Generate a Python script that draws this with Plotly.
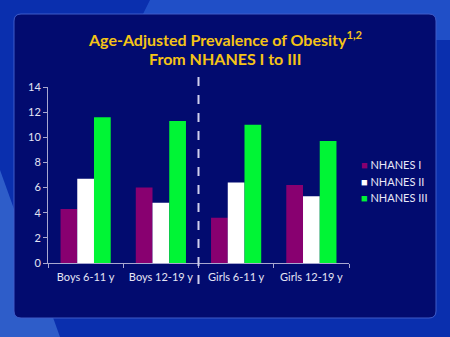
import plotly.graph_objects as go

categories = ["Boys 6-11 y", "Boys 12-19 y", "Girls 6-11 y", "Girls 12-19 y"]
nhanes1 = [4.3, 6.0, 3.6, 6.2]
nhanes2 = [6.7, 4.8, 6.4, 5.3]
nhanes3 = [11.6, 11.3, 11.0, 9.7]
series_names = ["NHANES I", "NHANES II", "NHANES III"]
series_colors = ["#880070", "#FFFFFF", "#00F535"]
y_ticks = [0, 2, 4, 6, 8, 10, 12, 14]

W, H = 450, 337
L, R, T, B = 48, 101, 87, 74
pw = W - L - R
ph = H - T - B

def px_x(px):
    return (px - L) / pw

def px_y(py):
    return (H - B - py) / ph

fig = go.Figure()
for name, vals, col in zip(series_names, [nhanes1, nhanes2, nhanes3], series_colors):
    fig.add_trace(go.Bar(x=categories, y=vals, name=name, marker_color=col,
                         marker_line_width=0, showlegend=False))

# background decorations
x0, x1, y0, y1 = px_x(14), px_x(436), px_y(318), px_y(14)
rx, ry = 7 / pw, 7 / ph
panel = (f"M {x0+rx},{y1} L {x1-rx},{y1} Q {x1},{y1} {x1},{y1-ry} "
         f"L {x1},{y0+ry} Q {x1},{y0} {x1-rx},{y0} L {x0+rx},{y0} "
         f"Q {x0},{y0} {x0},{y0+ry} L {x0},{y1-ry} Q {x0},{y1} {x0+rx},{y1} Z")
shapes = [
    dict(type="path", xref="paper", yref="paper", layer="below",
         path=f"M {px_x(0)},{px_y(337)} L {px_x(0)},{px_y(170)} L {px_x(60)},{px_y(337)} Z",
         fillcolor="rgba(90,150,235,0.45)", line_width=0),
    dict(type="path", xref="paper", yref="paper", layer="below",
         path=f"M {px_x(150)},{px_y(0)} L {px_x(450)},{px_y(0)} L {px_x(450)},{px_y(40)} L {px_x(130)},{px_y(40)} Z",
         fillcolor="rgba(60,120,230,0.45)", line_width=0),
    dict(type="path", xref="paper", yref="paper", layer="below", path=panel,
         fillcolor="#020B6F", line=dict(color="#3F5CC8", width=1)),
    dict(type="line", xref="x", yref="paper", x0=1.5, x1=1.5,
         y0=px_y(284), y1=px_y(77),
         line=dict(color="#D0D0EE", width=2, dash="dash")),
]

annotations = [
    dict(xref="paper", yref="paper", x=px_x(225), y=px_y(38),
         text="<b>Age-Adjusted Prevalence of Obesity<sup>1,2</sup></b>",
         showarrow=False, font=dict(size=16, color="#F5C416"), xanchor="center", yanchor="middle"),
    dict(xref="paper", yref="paper", x=px_x(225), y=px_y(59),
         text="<b>From NHANES I to III</b>",
         showarrow=False, font=dict(size=16, color="#F5C416"), xanchor="center", yanchor="middle"),
]
legend_y = [164.5, 181, 197.5]
for name, col, ly in zip(series_names, series_colors, legend_y):
    annotations.append(dict(
        xref="paper", yref="paper", x=px_x(359), y=px_y(ly),
        text=f'<span style="color:{col}">■</span> {name}',
        showarrow=False, xanchor="left", yanchor="middle",
        font=dict(size=11, color="#E8E8F8")))

fig.update_layout(
    width=W, height=H,
    margin=dict(l=L, r=R, t=T, b=B),
    paper_bgcolor="#0A2FAE",
    plot_bgcolor="rgba(0,0,0,0)",
    barmode="group", bargap=0.333, bargroupgap=0,
    font=dict(family="Lato, Open Sans, sans-serif", color="#E4E4F4", size=11),
    showlegend=False,
    xaxis=dict(showline=True, linecolor="#A8A8D0", linewidth=1, ticks="outside",
               tickson="boundaries", ticklen=4, tickcolor="#A8A8D0",
               ticklabelstandoff=4,
               tickfont=dict(size=11), showgrid=False, fixedrange=True),
    yaxis=dict(range=[0, 14], tickvals=y_ticks, showline=True, linecolor="#A8A8D0",
               linewidth=1, ticks="outside", ticklen=4, tickcolor="#A8A8D0",
               tickfont=dict(size=11), showgrid=False, zeroline=False, fixedrange=True),
    shapes=shapes,
    annotations=annotations,
)

fig.write_html("out.html")
